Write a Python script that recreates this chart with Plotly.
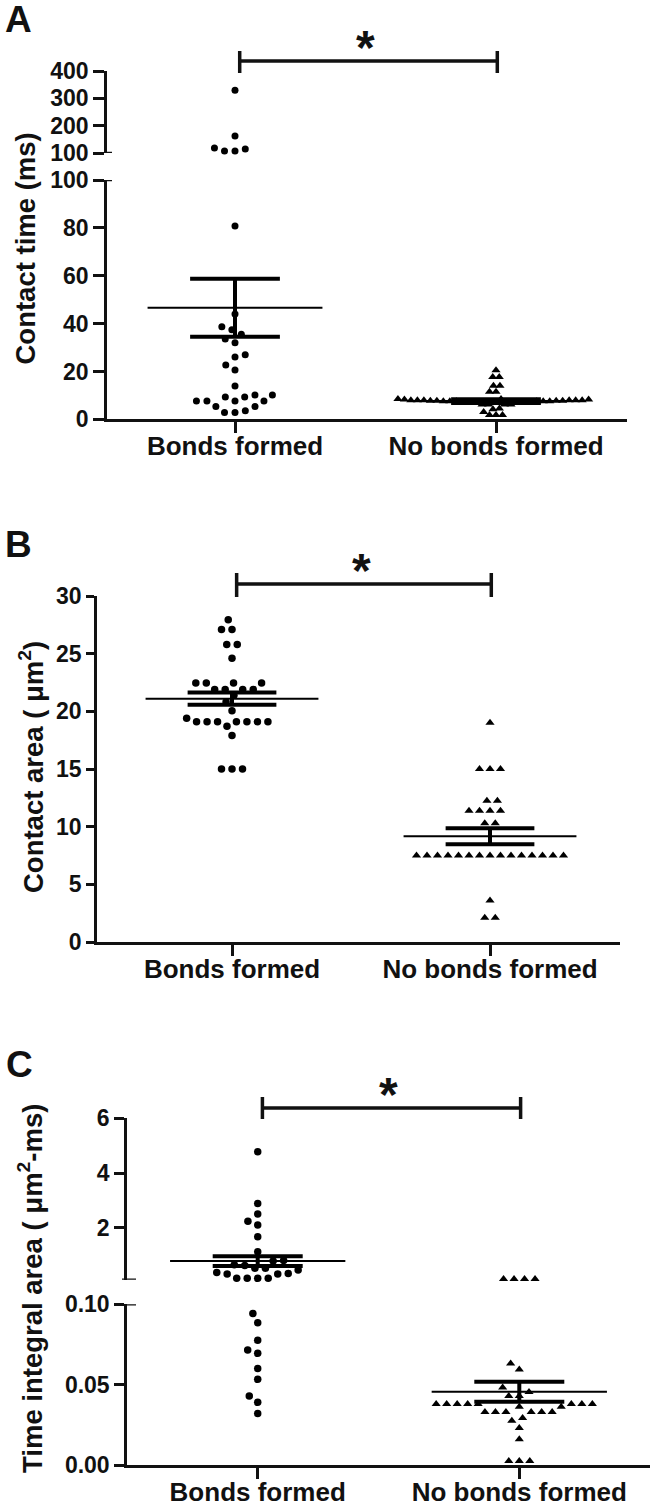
import math
import plotly.graph_objects as go

W, H = 651, 1501

categories = ["Bonds formed", "No bonds formed"]

# ---------------- Panel A : contact time (ms) ----------------
a_bonds = [330, 162, 118, 115, 107, 107,
           80.8, 44.0, 38.7, 37.4, 35.5, 33.6, 32.0, 27.0, 26.0, 22.7, 20.6,
           13.9, 10.2, 10.2, 9.3, 9.3, 7.6, 7.6, 7.6, 7.6, 5.3, 5.3, 3.6, 2.8, 2.8]
a_nobonds = [20.5, 17.7, 17.7, 14.0, 14.0, 11.5, 11.5,
             8.5, 8.5, 8.3, 8.3, 8.0, 8.0, 8.0, 8.0, 8.0, 8.0,
             7.8, 7.8, 7.8, 7.8, 7.5, 7.5, 7.5, 7.5, 7.5, 7.5,
             7.2, 7.2, 7.2, 7.2, 6.8, 6.8, 6.8, 6.2, 6.2, 6.2, 6.2,
             4.5, 4.2, 3.0, 1.8, 1.8, 1.8]
a_mean = [46.6, 7.6]
a_sem = [12.1, 0.8]
a_lower_ticks = [0, 20, 40, 60, 80, 100]
a_upper_ticks = [100, 200, 300, 400]

# ---------------- Panel B : contact area (um^2) ----------------
b_bonds = [27.95, 27.1, 27.1, 25.8, 25.8, 24.6, 22.45, 22.45, 22.45, 22.45,
           21.9, 21.9, 21.9, 21.9, 21.4, 20.8, 20.05, 19.4,
           19.1, 19.1, 19.1, 19.1, 19.1, 19.1, 19.1, 18.7, 17.9, 15.0, 15.0, 15.0]
b_nobonds = [19.0, 15.0, 15.0, 15.0, 12.24, 12.24, 11.37, 11.37, 11.37, 11.37,
             10.3, 10.3,
             7.49, 7.49, 7.49, 7.49, 7.49, 7.49, 7.49, 7.49, 7.49, 7.49, 7.49,
             7.49, 7.49, 7.49, 7.49,
             3.6, 2.1, 2.1]
b_mean = [21.1, 9.17]
b_sem = [0.53, 0.69]
b_ticks = [0, 5, 10, 15, 20, 25, 30]

# ---------------- Panel C : time integral area ----------------
c_bonds = [4.78, 2.89, 2.5, 2.24, 2.1, 1.67, 1.12, 0.8, 0.78, 0.65, 0.62,
           0.52, 0.52, 0.455, 0.36, 0.33, 0.31, 0.31, 0.15, 0.15, 0.15, 0.15,
           0.0943, 0.0885, 0.0777, 0.0715, 0.0695, 0.0601, 0.0533, 0.0429,
           0.039, 0.0321]
c_nobonds = [0.13, 0.13, 0.13, 0.13, 0.0632, 0.0595, 0.0483, 0.0455, 0.043, 0.043,
             0.038, 0.038, 0.038, 0.038, 0.038, 0.038, 0.038, 0.038,
             0.0363, 0.0363, 0.033, 0.033, 0.033, 0.033, 0.033, 0.033,
             0.0292, 0.0276, 0.023, 0.016, 0.0025, 0.0025, 0.0025]
c_mean = [0.78, 0.0456]
c_sem = [0.18, 0.0062]
c_lower_ticks = [0.0, 0.05, 0.10]
c_upper_ticks = [2, 4, 6]

# ---------------- geometry (pixels) ----------------
def pxx(p):
    return p / W

def pyy(p):
    return 1 - p / H

INK = "#111111"
TICKFONT = dict(family="Liberation Sans, Arial", size=23, color=INK, weight="bold")
CATFONT = dict(family="Liberation Sans, Arial", size=26, color=INK, weight="bold")
TITLEFONT = dict(family="Liberation Sans, Arial", size=27.5, color=INK, weight="bold")

panels = [
    dict(name="A", xa="x", x0=107, x1=627, cats=(235, 496),
         segs=[("y", 0, 100, 419.3, 180.0, a_lower_ticks, None),
               ("y2", 100, 400, 153.0, 71.0, a_upper_ticks, None)],
         brk=100, ticklen=11, data=[a_bonds, a_nobonds], mean=a_mean, sem=a_sem,
         D=[10.5, 6.5], msize=[7, 8], bracket=(61, 51, 73),
         title="Contact time (ms)", title_pos=(25, 248.5), letter_pos=(18, 19.5)),
    dict(name="B", xa="x2", x0=97, x1=620, cats=(232, 490),
         segs=[("y3", 0, 30, 942.0, 596.0, b_ticks, None)],
         brk=None, ticklen=8, data=[b_bonds, b_nobonds], mean=b_mean, sem=b_sem,
         D=[10.5, 10.5], msize=[7.5, 8], bracket=(584, 573, 597),
         title="Contact area ( \u03bcm<sup>2</sup>)", title_pos=(31, 767), letter_pos=(18.5, 544)),
    dict(name="C", xa="x3", x0=127, x1=650, cats=(257.7, 519.3),
         segs=[("y4", 0, 0.1, 1465.0, 1304.3, c_lower_ticks, ".2f"),
               ("y5", 0.1, 6, 1279.7, 1118.3, c_upper_ticks, None)],
         brk=0.1, ticklen=10, data=[c_bonds, c_nobonds], mean=c_mean, sem=c_sem,
         D=[10.5, 10.5], msize=[7.5, 8], bracket=(1108, 1097, 1119),
         title="Time integral area ( \u03bcm<sup>2</sup>-ms)", title_pos=(30, 1289), letter_pos=(19, 1064.5)),
]


def seg_for(p, v):
    if p["brk"] is not None and v > p["brk"]:
        return p["segs"][1]
    return p["segs"][0]


def to_px(p, v):
    s = seg_for(p, v)
    _, lo, hi, pb, pt, _, _ = s
    return pb + (v - lo) / (hi - lo) * (pt - pb)


def swarm(ypx, D):
    n = len(ypx)
    order = sorted(range(n), key=lambda i: -ypx[i])
    xs = [0.0] * n
    placed = []
    for i in order:
        yi = ypx[i]
        near = [j for j in placed if abs(ypx[j] - yi) < D]
        cands = [0.0]
        for j in near:
            dx = math.sqrt(D * D - (ypx[j] - yi) ** 2)
            cands += [xs[j] + dx, xs[j] - dx]
        best = 0.0
        for c in sorted(cands, key=lambda c: (round(abs(c), 6), c)):
            if all((c - xs[j]) ** 2 + (ypx[j] - yi) ** 2 >= D * D - 1e-6 for j in near):
                best = c
                break
        xs[i] = best
        placed.append(i)
    # centre rows of identical values that are isolated vertically
    groups = {}
    for i in range(n):
        groups.setdefault(round(ypx[i], 1), []).append(i)
    for key, idx in groups.items():
        if len(idx) < 2:
            continue
        others = [j for j in range(n) if j not in idx and abs(ypx[j] - ypx[idx[0]]) < D]
        if others:
            continue
        m = sum(xs[i] for i in idx) / len(idx)
        for i in idx:
            xs[i] -= m
    return xs


fig = go.Figure()
layout = dict(width=W, height=H, margin=dict(l=0, r=0, t=0, b=0, autoexpand=False),
              paper_bgcolor="white", plot_bgcolor="white", showlegend=False)
shapes = []
annotations = []
symbols = ["circle", "triangle-up"]

for p in panels:
    spacing = p["cats"][1] - p["cats"][0]
    r0 = -(p["cats"][0] - p["x0"]) / spacing
    r1 = 1 + (p["x1"] - p["cats"][1]) / spacing
    lowest = p["segs"][0][0]
    xkey = "xaxis" + ("" if p["xa"] == "x" else p["xa"][1:])
    layout[xkey] = dict(domain=[pxx(p["x0"]), pxx(p["x1"])], range=[r0, r1], anchor=lowest,
                        tickmode="array", tickvals=[0, 1], ticktext=categories,
                        ticks="outside", ticklen=11, tickwidth=2.5, tickcolor=INK,
                        ticklabelstandoff=-9,
                        showline=True, linewidth=2.5, linecolor=INK,
                        showgrid=False, zeroline=False, tickfont=CATFONT, fixedrange=True)
    for (ya, lo, hi, pb, pt, tv, fmt) in p["segs"]:
        ykey = "yaxis" + ("" if ya == "y" else ya[1:])
        layout[ykey] = dict(domain=[pyy(pb), pyy(pt)], range=[lo, hi], anchor=p["xa"],
                            tickmode="array", tickvals=tv, ticks="outside",
                            ticklen=p["ticklen"], tickwidth=2.5, tickcolor=INK,
                            showline=True, linewidth=2.5, linecolor=INK,
                            showgrid=False, zeroline=False, tickfont=TICKFONT,
                            fixedrange=True)
        if fmt:
            layout[ykey]["tickformat"] = fmt

    # points
    for g, vals in enumerate(p["data"]):
        ypx = [to_px(p, v) for v in vals]
        offs = swarm(ypx, p["D"][g])
        for s in p["segs"]:
            ya = s[0]
            xs, ys = [], []
            for v, o in zip(vals, offs):
                if seg_for(p, v)[0] == ya:
                    xs.append(g + o / spacing)
                    ys.append(v)
            if xs:
                fig.add_trace(go.Scatter(x=xs, y=ys, xaxis=p["xa"], yaxis=ya, mode="markers",
                                         marker=dict(symbol=symbols[g], size=p["msize"][g],
                                                     color="black", line=dict(width=0)),
                                         cliponaxis=False, hoverinfo="skip"))
    # mean +/- SEM
    for g in range(2):
        m, se = p["mean"][g], p["sem"][g]
        ya = seg_for(p, m)[0]
        fig.add_trace(go.Scatter(x=[g - 0.335, g + 0.335], y=[m, m], xaxis=p["xa"], yaxis=ya,
                                 mode="lines", line=dict(color="black", width=2),
                                 cliponaxis=False, hoverinfo="skip"))
        fig.add_trace(go.Scatter(x=[g - 0.172, g + 0.172, None, g - 0.172, g + 0.172, None, g, g],
                                 y=[m + se, m + se, None, m - se, m - se, None, m - se, m + se],
                                 xaxis=p["xa"], yaxis=ya, mode="lines",
                                 line=dict(color="black", width=4),
                                 cliponaxis=False, hoverinfo="skip"))

    # significance bracket and star
    by, b0, b1 = p["bracket"]
    xl, xr = 0.018, 1.005
    for (xa0, ya0, xa1, ya1) in [(xl, by, xr, by), (xl, b0, xl, b1), (xr, b0, xr, b1)]:
        shapes.append(dict(type="line", xref=p["xa"], yref="paper", x0=xa0, x1=xa1,
                           y0=pyy(ya0), y1=pyy(ya1), line=dict(color=INK, width=3.5)))
    annotations.append(dict(text="*", xref=p["xa"], yref="paper", x=0.5, y=pyy(by - 14),
                            showarrow=False, xanchor="center", yanchor="middle",
                            font=dict(family="Liberation Sans, Arial", size=48, color=INK,
                                      weight="bold")))
    # y title
    tx, ty = p["title_pos"]
    annotations.append(dict(text=p["title"], xref="paper", yref="paper", x=pxx(tx), y=pyy(ty),
                            textangle=-90, showarrow=False, xanchor="center", yanchor="middle",
                            font=TITLEFONT))
    lx, ly = p["letter_pos"]
    annotations.append(dict(text=p["name"], xref="paper", yref="paper", x=pxx(lx), y=pyy(ly),
                            showarrow=False, xanchor="center", yanchor="middle",
                            font=dict(family="Liberation Sans, Arial", size=37, color=INK,
                                      weight="bold")))

# axis-break tick marks extending inside the axis
brk_marks = [("y2", 100, 107, 112), ("y", 100, 107, 112),
             ("y5", 0.1, 122, 136), ("y4", 0.1, 127, 136)]
for ya, v, xa0, xa1 in brk_marks:
    shapes.append(dict(type="line", xref="paper", yref=ya, x0=pxx(xa0), x1=pxx(xa1), y0=v, y1=v,
                       line=dict(color=INK, width=2.5)))

layout["shapes"] = shapes
layout["annotations"] = annotations
fig.update_layout(**layout)
fig.write_html("out.html", config={"displayModeBar": False},
               post_script="document.body.style.margin='0';document.body.style.overflow='hidden';")
